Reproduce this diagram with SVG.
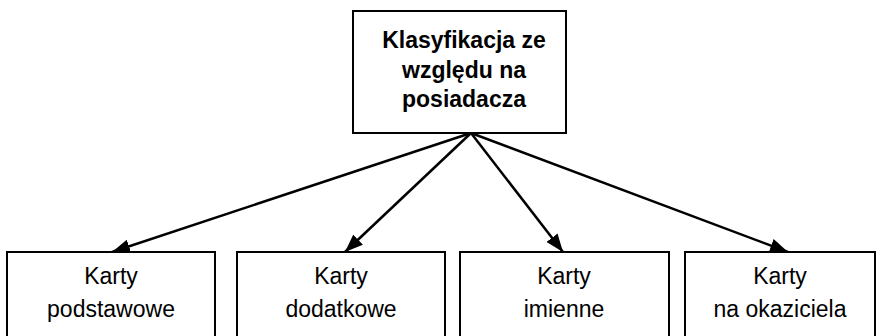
<svg xmlns="http://www.w3.org/2000/svg" width="878" height="336" viewBox="0 0 878 336">
<style>
.box{fill:#fff;stroke:#000;stroke-width:2}
.t{font-family:"Liberation Sans",Arial,sans-serif;font-size:23px;fill:#000;text-anchor:middle}
.b{font-weight:bold;font-size:23px}
.c{stroke:#000;stroke-width:2.5;fill:none;marker-end:url(#ah)}
</style>
<defs>
<marker id="ah" viewBox="0 0 18 14" refX="18" refY="7" markerWidth="18" markerHeight="14" markerUnits="userSpaceOnUse" orient="auto">
<path d="M0,0 L18,7 L0,14 z" fill="#000"/>
</marker>
</defs>
<rect width="878" height="336" fill="#fff"/>
<g id="connectors">
<line class="c" x1="471" y1="133" x2="112" y2="252"/>
<line class="c" x1="471" y1="133" x2="345" y2="252"/>
<line class="c" x1="471" y1="133" x2="563" y2="252"/>
<line class="c" x1="471" y1="133" x2="788" y2="252"/>
</g>
<g id="root">
<rect class="box" x="353" y="11" width="213" height="122"/>
<text class="t b" x="464" y="48">Klasyfikacja ze</text>
<text class="t b" x="464" y="78">względu na</text>
<text class="t b" x="464" y="107">posiadacza</text>
</g>
<g id="n1">
<rect class="box" x="7" y="252" width="208" height="90"/>
<text class="t" x="111" y="284">Karty</text>
<text class="t" x="111" y="317">podstawowe</text>
</g>
<g id="n2">
<rect class="box" x="237" y="252" width="208" height="90"/>
<text class="t" x="341" y="284">Karty</text>
<text class="t" x="341" y="317">dodatkowe</text>
</g>
<g id="n3">
<rect class="box" x="460" y="252" width="209" height="90"/>
<text class="t" x="564" y="284">Karty</text>
<text class="t" x="564" y="317">imienne</text>
</g>
<g id="n4">
<rect class="box" x="685" y="252" width="190" height="90"/>
<text class="t" x="780" y="284">Karty</text>
<text class="t" x="780" y="317">na okaziciela</text>
</g>
</svg>
